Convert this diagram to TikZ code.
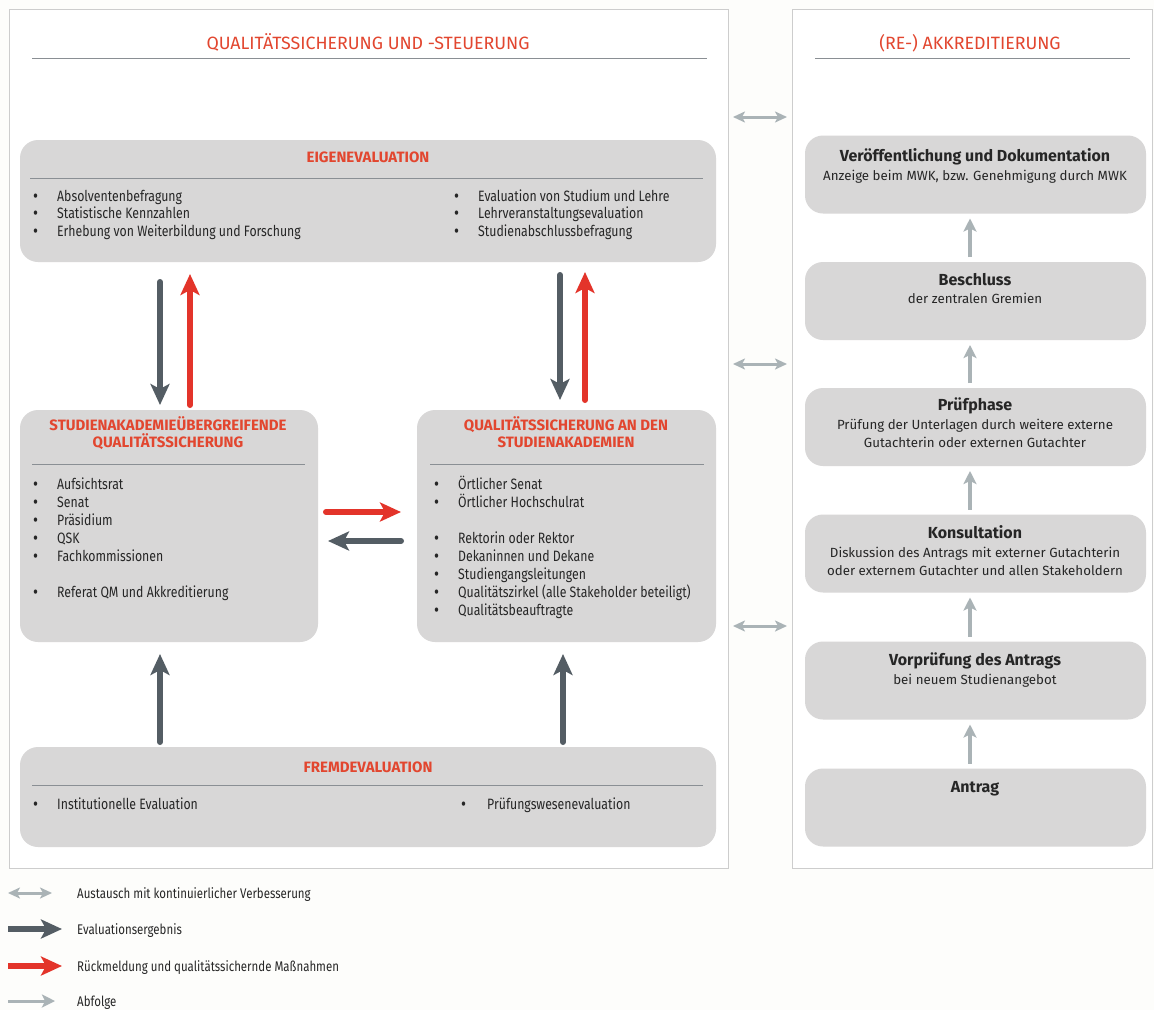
\documentclass[tikz,border=0pt]{standalone}
\usepackage{fontspec}
\setmainfont{Fira Sans}
\newfontfamily\condfont[FakeStretch=0.82]{Fira Sans}
\usetikzlibrary{arrows.meta}
\definecolor{bgc}{HTML}{FDFDFB}
\definecolor{panelborder}{HTML}{CDCDCD}
\definecolor{boxfill}{HTML}{D8D7D7}
\definecolor{titlered}{HTML}{E2462F}
\definecolor{arrowred}{HTML}{E3342A}
\definecolor{arrowdark}{HTML}{545D64}
\definecolor{arrowlight}{HTML}{AAB3B6}
\definecolor{sepline}{HTML}{8A8F94}
\definecolor{txt}{HTML}{262626}
\newcommand{\blt}[1]{\makebox[#1][l]{\raisebox{-1.2pt}{\scalebox{1.25}{•}}}}
\begin{document}
\begin{tikzpicture}[x=1pt,y=-1pt,
  panel/.style={draw=panelborder, fill=white, line width=1pt, inner sep=0, outer sep=0},
  box/.style={fill=boxfill, rounded corners=18pt, inner sep=0, outer sep=0},
  maintitle/.style={anchor=base, inner sep=0, text=titlered, font=\fontsize{17.8}{20}\selectfont},
  boxtitle/.style={anchor=base, inner sep=0, text=titlered, font=\bfseries\fontsize{15}{17}\selectfont},
  item/.style={anchor=base west, inner sep=0, text=txt, font=\condfont\fontsize{15}{18}\selectfont},
  legtext/.style={anchor=base west, inner sep=0, text=txt, font=\condfont\fontsize{14}{16}\selectfont},
  rtitle/.style={anchor=base, inner sep=0, text=txt, font=\bfseries\fontsize{16}{18}\selectfont},
  rsub/.style={anchor=base, inner sep=0, text=txt, font=\fontsize{13.3}{16}\selectfont},
  sep/.style={draw=sepline, line width=0.8pt},
  darr/.style={draw=arrowdark, line width=6pt, line cap=round, -{Stealth[length=21pt,width=19pt,inset=5pt]}},
  rarr/.style={draw=arrowred, line width=6pt, line cap=round, -{Stealth[length=21pt,width=19pt,inset=5pt]}},
  larr/.style={draw=arrowlight, line width=3pt, {Stealth[length=12pt,width=11pt,inset=3pt]}-{Stealth[length=12pt,width=11pt,inset=3pt]}},
  garr/.style={draw=arrowlight, line width=4pt, -{Stealth[length=13pt,width=13pt,inset=3pt]}}
]
\useasboundingbox (0,0) rectangle (1154,1010);
\fill[bgc] (0,0) rectangle (1154,1010);

% panels
\node[panel, minimum width=719pt, minimum height=859pt] (lp) at (368.5,438.5) {};
\node[panel, minimum width=360pt, minimum height=859pt] (rp) at (972,438.5) {};

\node[maintitle] (lpt) at (368,49) {QUALITÄTSSICHERUNG UND -STEUERUNG};
\draw[sep] (32,58) -- (707,58);
\node[maintitle] (rpt) at (970,49) {(RE-) AKKREDITIERUNG};
\draw[sep] (815,58) -- (1130,58);

% left boxes
\node[box, minimum width=696pt, minimum height=122pt] (eigen) at (368,201) {};
\node[box, minimum width=298pt, minimum height=232pt] (stud) at (169,526) {};
\node[box, minimum width=299pt, minimum height=232pt] (qsa) at (566.5,526) {};
\node[box, minimum width=696pt, minimum height=100pt] (frem) at (368,797) {};

% Eigenevaluation
\node[boxtitle] (eigent) at (368,162) {EIGENEVALUATION};
\draw[sep] (30,178) -- (703,178);
\foreach \y/\t [count=\i] in {201/Absolventenbefragung, 218.5/Statistische Kennzahlen, 236/Erhebung von Weiterbildung und Forschung}
  \node[item] (eL\i) at (33,\y) {\blt{24pt}\t};
\foreach \y/\t [count=\i] in {201/Evaluation von Studium und Lehre, 218.5/Lehrveranstaltungsevaluation, 236/Studienabschlussbefragung}
  \node[item] (eR\i) at (454,\y) {\blt{24pt}\t};

% Studienakademieuebergreifende
\node[boxtitle] (studt1) at (168,430) {STUDIENAKADEMIEÜBERGREIFENDE};
\node[boxtitle] (studt2) at (168,447) {QUALITÄTSSICHERUNG};
\draw[sep] (32,464) -- (305,464);
\foreach \y/\t [count=\i] in {489/Aufsichtsrat, 507/Senat, 525/Präsidium, 543/QSK, 561/Fachkommissionen, 597/Referat QM und Akkreditierung}
  \node[item] (sL\i) at (33,\y) {\blt{24pt}\t};

% Qualitaetssicherung an den Studienakademien
\node[boxtitle] (qsat1) at (566,430) {QUALITÄTSSICHERUNG AN DEN};
\node[boxtitle] (qsat2) at (566,447) {STUDIENAKADEMIEN};
\draw[sep] (430,464) -- (704,464);
\foreach \y/\t [count=\i] in {489/Örtlicher Senat, 507/Örtlicher Hochschulrat, 543/Rektorin oder Rektor, 561/Dekaninnen und Dekane, 579/Studiengangsleitungen, 597/Qualitätszirkel (alle Stakeholder beteiligt), 615/Qualitätsbeauftragte}
  \node[item] (qL\i) at (434,\y) {\blt{24pt}\t};

% Fremdevaluation
\node[boxtitle] (fremt) at (368,772) {FREMDEVALUATION};
\draw[sep] (32,785) -- (703,785);
\node[item] (fL1) at (33,809) {\blt{24pt}Institutionelle Evaluation};
\node[item] (fR1) at (461,809) {\blt{26pt}Prüfungswesenevaluation};

% column coordinates
\coordinate (c1) at (160,0);
\coordinate (c2) at (190,0);
\coordinate (c3) at (560,0);
\coordinate (c4) at (585,0);
\coordinate (c5) at (563,0);
\coordinate (r1) at (0,512);
\coordinate (r2) at (0,541);

% arrows left panel
\draw[darr, shorten <=20pt, shorten >=5pt] (eigen.south -| c1) -- (stud.north -| c1);
\draw[rarr, shorten <=5pt, shorten >=12pt] (stud.north -| c2) -- (eigen.south -| c2);
\draw[darr, shorten <=13pt, shorten >=10pt] (eigen.south -| c3) -- (qsa.north -| c3);
\draw[rarr, shorten <=10pt, shorten >=10pt] (qsa.north -| c4) -- (eigen.south -| c4);
\draw[rarr, shorten <=8pt, shorten >=16pt] (stud.east |- r1) -- (qsa.west |- r1);
\draw[darr, shorten <=16pt, shorten >=10pt] (qsa.west |- r2) -- (stud.east |- r2);
\draw[darr, shorten <=5pt, shorten >=12pt] (frem.north -| c1) -- (stud.south -| c1);
\draw[darr, shorten <=5pt, shorten >=12pt] (frem.north -| c5) -- (qsa.south -| c5);

% exchange arrows between panels
\coordinate (x1) at (0,117);
\coordinate (x2) at (0,364);
\coordinate (x3) at (0,626);
\draw[larr, shorten <=5pt, shorten >=5pt] (lp.east |- x1) -- (rp.west |- x1);
\draw[larr, shorten <=5pt, shorten >=5pt] (lp.east |- x2) -- (rp.west |- x2);
\draw[larr, shorten <=5pt, shorten >=5pt] (lp.east |- x3) -- (rp.west |- x3);

% right boxes
\node[box, minimum width=341pt, minimum height=78pt] (veroe) at (975.5,174.5) {};
\node[box, minimum width=341pt, minimum height=78pt] (besch) at (975.5,301) {};
\node[box, minimum width=341pt, minimum height=78pt] (pruef) at (975.5,427) {};
\node[box, minimum width=341pt, minimum height=78pt] (kons) at (975.5,553.5) {};
\node[box, minimum width=341pt, minimum height=78pt] (vorp) at (975.5,680.5) {};
\node[box, minimum width=341pt, minimum height=78pt] (antr) at (975.5,807.5) {};

\node[rtitle] (veroet) at (975,161) {Veröffentlichung und Dokumentation};
\node[rsub] (veroes) at (975,180) {Anzeige beim MWK, bzw. Genehmigung durch MWK};
\node[rtitle] (bescht) at (975,285) {Beschluss};
\node[rsub] (beschs) at (975,303) {der zentralen Gremien};
\node[rtitle] (prueft) at (975,410) {Prüfphase};
\node[rsub] (pruefs1) at (975,429) {Prüfung der Unterlagen durch weitere externe};
\node[rsub] (pruefs2) at (975,447) {Gutachterin oder externen Gutachter};
\node[rtitle] (konst) at (975,538) {Konsultation};
\node[rsub] (konss1) at (975,557) {Diskussion des Antrags mit externer Gutachterin};
\node[rsub] (konss2) at (975,575) {oder externem Gutachter und allen Stakeholdern};
\node[rtitle] (vorpt) at (975,665) {Vorprüfung des Antrags};
\node[rsub] (vorps) at (975,684) {bei neuem Studienangebot};
\node[rtitle] (antrt) at (975,792) {Antrag};

\coordinate (cr) at (970,0);
\draw[garr, shorten <=5pt, shorten >=5pt] (antr.north -| cr) -- (vorp.south -| cr);
\draw[garr, shorten <=5pt, shorten >=5pt] (vorp.north -| cr) -- (kons.south -| cr);
\draw[garr, shorten <=5pt, shorten >=5pt] (kons.north -| cr) -- (pruef.south -| cr);
\draw[garr, shorten <=5pt, shorten >=5pt] (pruef.north -| cr) -- (besch.south -| cr);
\draw[garr, shorten <=5pt, shorten >=5pt] (besch.north -| cr) -- (veroe.south -| cr);

% legend
\coordinate (la1) at (8,893);  \coordinate (lb1) at (52,893);
\coordinate (la2) at (8,929);  \coordinate (lb2) at (62,929);
\coordinate (la3) at (8,966);  \coordinate (lb3) at (62,966);
\coordinate (la4) at (8,1001); \coordinate (lb4) at (55,1001);
\draw[larr] (la1) -- (lb1);
\draw[darr, line cap=butt] (la2) -- (lb2);
\draw[rarr, line cap=butt] (la3) -- (lb3);
\draw[garr, line width=3pt] (la4) -- (lb4);
\node[legtext] (lt1) at (77,898) {Austausch mit kontinuierlicher Verbesserung};
\node[legtext] (lt2) at (77,934) {Evaluationsergebnis};
\node[legtext] (lt3) at (77,971) {Rückmeldung und qualitätssichernde Maßnahmen};
\node[legtext] (lt4) at (77,1006) {Abfolge};
\end{tikzpicture}
\end{document}
